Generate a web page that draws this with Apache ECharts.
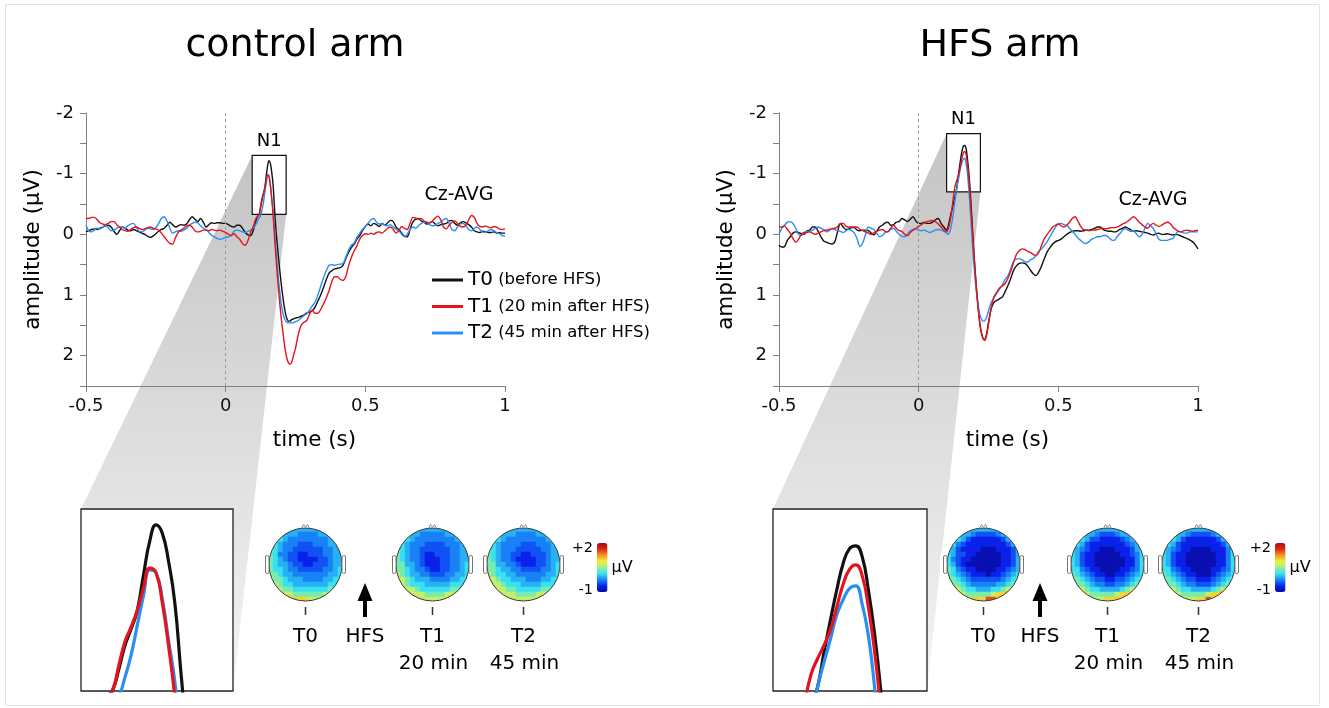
<!DOCTYPE html>
<html><head><meta charset="utf-8">
<script src="https://cdn.jsdelivr.net/npm/echarts@6/dist/echarts.min.js"></script>
<style>html,body{margin:0;padding:0;background:#fff}#c{width:1329px;height:708px}</style>
</head><body><div id="c"></div>
<script>
// ---------------- DATA ----------------
const TIME = [
 -0.50,-0.49,-0.48,-0.47,-0.46,-0.45,-0.44,-0.43,-0.42,-0.41,
 -0.40,-0.39,-0.38,-0.37,-0.36,-0.35,-0.34,-0.33,-0.32,-0.31,
 -0.30,-0.29,-0.28,-0.27,-0.26,-0.25,-0.24,-0.23,-0.22,-0.21,
 -0.20,-0.19,-0.18,-0.17,-0.16,-0.15,-0.14,-0.13,-0.12,-0.11,
 -0.10,-0.09,-0.08,-0.07,-0.06,-0.05,-0.04,-0.03,-0.02,-0.01,
 0.00,0.01,0.02,0.03,0.04,0.05,0.06,0.07,0.08,0.09,0.10,
 0.105,0.11,0.115,0.12,0.125,0.13,0.135,0.14,0.145,0.15,
 0.155,0.16,0.165,0.17,0.175,0.18,0.185,0.19,0.195,0.20,
 0.205,0.21,0.215,0.22,0.225,0.23,0.235,0.24,0.245,0.25,
 0.26,0.27,0.28,0.29,0.30,0.31,0.32,0.33,0.34,0.35,
 0.36,0.37,0.38,0.39,0.40,0.41,0.42,0.43,0.44,0.45,
 0.46,0.47,0.48,0.49,0.50,0.51,0.52,0.53,0.54,0.55,
 0.56,0.57,0.58,0.59,0.60,0.61,0.62,0.63,0.64,0.65,
 0.66,0.67,0.68,0.69,0.70,0.71,0.72,0.73,0.74,0.75,
 0.76,0.77,0.78,0.79,0.80,0.81,0.82,0.83,0.84,0.85,
 0.86,0.87,0.88,0.89,0.90,0.91,0.92,0.93,0.94,0.95,
 0.96,0.97,0.98,0.99,1.00];

// control arm, Cz-AVG (µV)
const CTRL_T0 = [
 -0.04,-0.06,-0.08,-0.09,-0.08,-0.10,-0.12,-0.14,-0.15,-0.12,
 -0.05,0.00,-0.06,-0.12,-0.10,-0.07,-0.06,-0.08,-0.06,-0.04,
 -0.02,0.00,0.03,0.05,0.03,-0.01,-0.05,-0.08,-0.10,-0.15,
 -0.20,-0.16,-0.12,-0.14,-0.16,-0.15,-0.17,-0.24,-0.29,-0.25,
 -0.21,-0.26,-0.20,-0.12,-0.16,-0.19,-0.18,-0.19,-0.19,-0.18,
 -0.18,-0.16,-0.13,-0.12,-0.15,-0.15,-0.10,-0.03,0.01,0.02,-0.08,
 -0.17,-0.25,-0.30,-0.33,-0.44,-0.57,-0.66,-0.76,-0.95,-1.13,
 -1.215,-1.17,-1.02,-0.80,-0.42,-0.08,0.18,0.42,0.65,0.86,
 1.04,1.20,1.32,1.40,1.43,1.43,1.41,1.40,1.39,1.38,
 1.37,1.35,1.33,1.30,1.28,1.26,1.20,1.10,1.00,0.88,
 0.75,0.64,0.60,0.57,0.56,0.55,0.51,0.40,0.30,0.22,
 0.16,0.08,0.02,-0.06,-0.13,-0.17,-0.14,-0.18,-0.16,-0.13,
 -0.18,-0.15,-0.19,-0.23,-0.21,-0.12,-0.08,-0.02,0.03,0.04,
 -0.08,-0.20,-0.25,-0.26,-0.22,-0.20,-0.17,-0.19,-0.21,-0.17,
 -0.14,-0.16,-0.17,-0.18,-0.22,-0.23,-0.18,-0.15,-0.19,-0.21,
 -0.19,-0.16,-0.12,-0.06,-0.04,-0.03,-0.05,-0.04,-0.03,-0.03,
 -0.04,-0.02,-0.03,-0.02,-0.02];
const CTRL_T1 = [
 -0.26,-0.26,-0.28,-0.28,-0.24,-0.19,-0.17,-0.16,-0.18,-0.21,
 -0.21,-0.16,-0.12,-0.08,-0.06,-0.05,-0.08,-0.11,-0.12,-0.10,
 -0.08,-0.09,-0.11,-0.12,-0.10,-0.09,-0.07,-0.02,0.04,0.10,
 0.15,0.16,0.06,-0.03,-0.07,-0.10,-0.14,-0.15,-0.12,-0.06,
 -0.04,-0.05,-0.07,-0.07,-0.06,-0.08,-0.07,-0.06,-0.07,-0.05,
 -0.03,0.00,0.02,-0.01,0.04,0.08,0.15,0.18,0.10,-0.04,-0.14,
 -0.22,-0.27,-0.30,-0.33,-0.46,-0.59,-0.67,-0.76,-0.88,-0.985,
 -0.96,-0.80,-0.57,-0.30,0.05,0.38,0.68,0.95,1.20,1.42,
 1.62,1.80,1.95,2.06,2.12,2.14,2.12,2.05,1.96,1.88,
 1.65,1.50,1.45,1.42,1.32,1.25,1.30,1.30,1.24,1.15,
 1.05,0.93,0.78,0.70,0.70,0.74,0.76,0.70,0.52,0.38,
 0.27,0.19,0.08,0.02,-0.01,0.00,-0.02,0.00,-0.03,-0.04,
 -0.02,-0.06,-0.10,-0.12,-0.08,-0.02,-0.06,-0.13,-0.10,-0.08,
 -0.18,-0.28,-0.27,-0.25,-0.26,-0.22,-0.20,-0.19,-0.22,-0.27,
 -0.30,-0.24,-0.12,-0.09,-0.15,-0.20,-0.22,-0.18,-0.13,-0.12,
 -0.15,-0.24,-0.31,-0.28,-0.18,-0.13,-0.12,-0.14,-0.12,-0.11,
 -0.13,-0.12,-0.09,-0.08,-0.09];
const CTRL_T2 = [
 -0.15,-0.06,-0.04,-0.07,-0.10,-0.09,-0.12,-0.15,-0.11,-0.06,
 -0.07,-0.10,-0.12,-0.12,-0.10,-0.14,-0.17,-0.18,-0.12,-0.05,
 -0.04,-0.07,-0.10,-0.09,-0.08,-0.11,-0.18,-0.26,-0.29,-0.22,
 -0.10,-0.02,-0.04,-0.06,-0.05,-0.07,-0.10,-0.15,-0.18,-0.20,
 -0.19,-0.14,-0.10,-0.08,-0.03,0.02,0.04,0.07,0.08,0.07,
 0.05,0.04,0.02,-0.05,-0.07,-0.06,-0.04,-0.03,-0.05,-0.07,-0.10,
 -0.14,-0.18,-0.23,-0.27,-0.30,-0.40,-0.52,-0.68,-0.84,-0.975,
 -0.96,-0.82,-0.60,-0.38,-0.06,0.25,0.52,0.78,1.00,1.18,
 1.30,1.38,1.43,1.45,1.46,1.46,1.46,1.46,1.45,1.44,
 1.42,1.38,1.34,1.31,1.25,1.18,1.12,1.00,0.86,0.72,
 0.60,0.51,0.50,0.51,0.50,0.49,0.48,0.38,0.26,0.18,
 0.14,0.05,-0.02,-0.08,-0.13,-0.18,-0.24,-0.26,-0.20,-0.17,
 -0.18,-0.15,-0.14,-0.16,-0.12,-0.08,-0.06,0.00,0.04,0.00,
 -0.08,-0.12,-0.10,-0.14,-0.18,-0.20,-0.20,-0.16,-0.14,-0.15,
 -0.18,-0.20,-0.24,-0.26,-0.18,-0.08,-0.06,-0.12,-0.17,-0.18,
 -0.14,-0.08,-0.06,-0.10,-0.12,-0.08,-0.04,-0.03,-0.06,-0.08,
 -0.06,-0.03,-0.01,0.02,0.03];

// HFS arm, Cz-AVG (µV)
const HFS_T0 = [
 0.18,0.21,0.20,0.10,0.04,-0.02,-0.04,-0.03,-0.01,0.00,
 -0.06,-0.07,-0.12,-0.12,-0.05,0.04,0.11,0.13,0.15,0.16,
 0.12,-0.05,-0.18,-0.12,-0.08,-0.09,-0.11,-0.11,-0.07,-0.06,
 -0.07,-0.07,-0.06,-0.02,0.01,-0.05,-0.12,-0.15,-0.19,-0.20,
 -0.15,-0.16,-0.20,-0.21,-0.26,-0.24,-0.21,-0.25,-0.29,-0.22,
 -0.18,-0.18,-0.20,-0.18,-0.18,-0.20,-0.24,-0.26,-0.18,-0.12,-0.07,
 -0.12,-0.22,-0.33,-0.42,-0.52,-0.62,-0.72,-0.90,-1.07,-1.23,
 -1.37,-1.45,-1.465,-1.41,-1.23,-0.99,-0.68,-0.30,0.08,0.45,
 0.78,1.05,1.30,1.50,1.63,1.71,1.74,1.70,1.60,1.45,
 1.22,1.12,1.09,1.06,1.03,0.94,0.84,0.72,0.59,0.52,
 0.48,0.47,0.48,0.52,0.59,0.65,0.68,0.62,0.52,0.40,
 0.29,0.22,0.16,0.12,0.10,0.08,0.04,0.00,-0.03,-0.05,
 -0.06,-0.06,-0.05,-0.06,-0.07,-0.07,-0.08,-0.10,-0.12,-0.12,
 -0.08,-0.06,-0.05,-0.05,-0.04,-0.05,-0.08,-0.10,-0.12,-0.10,
 -0.07,-0.05,-0.06,-0.05,-0.04,-0.03,-0.02,0.00,0.01,-0.01,
 -0.02,0.00,0.00,-0.01,0.00,0.01,0.00,0.01,0.03,0.05,
 0.07,0.09,0.12,0.17,0.24];
const HFS_T1 = [
 -0.12,-0.12,-0.14,-0.08,-0.02,0.07,0.13,0.08,0.00,-0.03,
 -0.03,-0.04,-0.02,0.00,-0.02,-0.04,-0.06,-0.07,-0.08,-0.09,
 -0.10,-0.13,-0.18,-0.18,-0.13,-0.12,-0.12,-0.12,-0.12,-0.08,
 -0.06,-0.04,-0.02,0.00,-0.03,-0.05,-0.07,-0.08,-0.05,-0.04,
 -0.10,-0.15,-0.10,-0.06,-0.05,0.00,0.02,-0.03,-0.07,-0.10,
 -0.13,-0.16,-0.19,-0.21,-0.22,-0.23,-0.21,-0.17,-0.12,-0.07,-0.04,
 -0.08,-0.16,-0.28,-0.45,-0.64,-0.79,-0.87,-0.94,-1.02,-1.14,
 -1.26,-1.34,-1.365,-1.31,-1.14,-0.90,-0.58,-0.22,0.14,0.48,
 0.80,1.08,1.32,1.51,1.63,1.71,1.75,1.72,1.62,1.48,
 1.20,1.03,0.95,0.88,0.85,0.81,0.72,0.60,0.46,0.33,
 0.27,0.24,0.25,0.28,0.30,0.33,0.35,0.30,0.18,0.07,
 0.00,-0.06,-0.12,-0.15,-0.17,-0.14,-0.12,-0.15,-0.20,-0.26,
 -0.29,-0.22,-0.13,-0.08,-0.07,-0.06,-0.07,-0.07,-0.08,-0.09,
 -0.10,-0.09,-0.10,-0.11,-0.11,-0.12,-0.14,-0.17,-0.19,-0.22,
 -0.26,-0.29,-0.25,-0.20,-0.16,-0.12,-0.10,-0.15,-0.18,-0.15,
 -0.13,-0.15,-0.18,-0.20,-0.18,-0.12,-0.08,-0.05,-0.04,-0.06,
 -0.07,-0.06,-0.05,-0.06,-0.07];
const HFS_T2 = [
 0.00,-0.10,-0.15,-0.20,-0.21,-0.18,-0.10,0.00,0.02,-0.02,
 -0.05,-0.05,-0.07,-0.10,-0.12,-0.10,-0.08,-0.04,-0.06,-0.10,
 -0.08,-0.06,-0.05,-0.03,-0.06,-0.08,-0.06,-0.02,0.08,0.20,
 0.14,0.00,-0.12,-0.10,-0.08,-0.02,0.04,0.02,-0.03,-0.05,
 -0.08,-0.10,-0.05,0.00,0.03,0.04,0.00,-0.06,-0.08,-0.09,
 -0.07,-0.06,-0.07,-0.05,-0.03,-0.05,-0.07,-0.08,-0.07,-0.05,-0.02,
 0.00,-0.03,-0.10,-0.22,-0.38,-0.56,-0.72,-0.85,-0.97,-1.10,
 -1.18,-1.24,-1.255,-1.16,-0.99,-0.71,-0.38,-0.02,0.33,0.63,
 0.88,1.08,1.23,1.34,1.40,1.43,1.43,1.40,1.34,1.26,
 1.12,1.04,0.97,0.90,0.83,0.74,0.68,0.56,0.44,0.41,
 0.40,0.42,0.45,0.46,0.42,0.40,0.35,0.28,0.24,0.18,
 0.12,0.04,-0.04,-0.12,-0.17,-0.18,-0.16,-0.15,-0.10,-0.05,
 0.00,0.06,0.10,0.14,0.15,0.12,0.08,0.06,0.04,0.04,
 0.02,0.02,0.05,0.09,0.10,0.04,-0.01,-0.07,-0.09,-0.07,
 -0.05,-0.06,0.00,0.04,0.00,-0.10,-0.18,-0.14,-0.10,0.00,
 0.08,0.10,0.10,0.10,0.08,0.07,0.00,-0.05,-0.04,-0.02,
 -0.02,-0.04,-0.04,-0.04,-0.04];

const SERIES_NAMES = ['T0', 'T1', 'T2'];
const LEGEND_DESC = { T0: '(before HFS)', T1: '(20 min after HFS)', T2: '(45 min after HFS)' };
const X_AXIS = { min: -0.5, max: 1, interval: 0.5 };
const Y_AXIS = { min: -2, max: 2.5, interval: 0.5 };

// Topographic maps at the N1 peak: level codes per cell (row 0 = front, '.' = outside head)
const TOPO_LEVELS = [-0.9, -0.66, -0.45, -0.27, -0.08, 0.12, 0.38, 0.68, 1.0, 1.5];
const TOPO_CTRL_T0 = [
 "...544444445...","..54443333445..",".5543333333345.","554333222333445","654332222223344",
 "653322112223344","654322111122344","654432211222344","655433222223345","665443333333445",
 "766544433334455","776554444444556",".7766555555566.","..77766666677..","...788887777..."];
const TOPO_CTRL_T1 = [
 "...444444444...","..54433333445..",".5543333333345.","554333222233345","654332222223344",
 "654332112223344","654332111223344","664432111223345","665433211223345","765443322233445",
 "776544433334455","776555444445556",".8776555555666.","..87776666777..","...877777777..."];
const TOPO_CTRL_T2 = [
 "...444444444...","..54443333445..",".5543333333345.","554333322233345","654333222223344",
 "654332211222344","654332111122344","664433211122345","665443322223345","765544333333445",
 "776554443334455","777655544445556",".7776655555666.","..77776666777..","...777777777..."];
const TOPO_HFS_T0 = [
 "...544444445...","..54432222345..",".5542111111245.","553211111111245","542111100011124",
 "542211000001124","532110000001124","542100000001124","653211000011234","654321110112345",
 "665432222223456","766543333344567",".7765544455678.","..77666667889..","...778889987..."];
const TOPO_HFS_T1 = [
 "...444444444...","..54432223445..",".5542211112345.","554211111112345","543211000111245",
 "542110000011235","542110000001135","542110000001135","553211000011235","654321100112345",
 "665432211223456","766543322334567",".7765544445678.","..77666667888..","...777788887..."];
const TOPO_HFS_T2 = [
 "...444444444...","..54432222345..",".5542111111245.","554211111111245","543211000011135",
 "542110000001135","542110000001135","542110000001135","553211000011235","654321100012345",
 "665432211123456","766543322234567",".7765544445678.","..77666667889..","...777788987..."];
const TOPO_LABELS = ['T0', 'T1', 'T2'];
const TOPO_SUBLABELS = ['', '20 min', '45 min'];
const COLORBAR_RANGE = { min: -1, max: 2, top: '+2', bottom: '-1', unit: 'μV' };

// ---------------- LAYOUT / STYLE ----------------
const FONT = 'DejaVu Sans';
const COLORS = ['#111111', '#e3141c', '#2a8ef2'];
const DRAW_ORDER = [0, 2, 1];
const JET = ['#08089a','#0a24f2','#1a86f6','#38e2f2','#96f090','#f4ee3e','#f59622','#e62418','#981210'];
const TOPO_CY = 564, TOPO_SIZE = 75, HEAD_R = 36.5;

const ARMS = [
  { title: 'control arm', data: [CTRL_T0, CTRL_T1, CTRL_T2], topo: [TOPO_CTRL_T0, TOPO_CTRL_T1, TOPO_CTRL_T2],
    grid: { left: 86, top: 113, width: 419, height: 273 },
    inset: { left: 81, top: 509, width: 152, height: 182 },
    zoom: { t: [0.095, 0.2165], v: [-1.30, -0.33] },
    titlePos: [295, 46], czPos: [459, 195], topoX: [305.5, 432, 523.5], hfsX: 365, cbar: [597, 543] },
  { title: 'HFS arm', data: [HFS_T0, HFS_T1, HFS_T2], topo: [TOPO_HFS_T0, TOPO_HFS_T1, TOPO_HFS_T2],
    grid: { left: 779, top: 113, width: 419, height: 273 },
    inset: { left: 773, top: 509, width: 154, height: 182 },
    zoom: { t: [0.10, 0.221], v: [-1.66, -0.70] },
    titlePos: [1000, 46], czPos: [1153, 200], topoX: [983.5, 1107.5, 1198.5], hfsX: 1040, cbar: [1275, 543] }
];

function pairs(vals) { return TIME.map((t, i) => [t, vals[i]]); }
const CAT15 = Array.from({ length: 15 }, (_, i) => String(i));
function topoData(rows) {
  const out = [];
  rows.forEach((row, r) => {
    for (let c = 0; c < row.length; c++) {
      const ch = row[c];
      if (ch !== '.') out.push([c, r, TOPO_LEVELS[+ch]]);
    }
  });
  return out;
}

const axisLineStyle = { color: '#808080', width: 1 };
const option = {
  animation: false,
  backgroundColor: '#ffffff',
  textStyle: { fontFamily: FONT },
  grid: [], xAxis: [], yAxis: [], series: [], visualMap: [],
  legend: {
    show: true, data: SERIES_NAMES, orient: 'vertical', left: 432, top: 270, padding: 0,
    icon: 'rect', itemWidth: 31, itemHeight: 3, itemGap: 6.5, selectedMode: false,
    formatter: n => `{a|${n}} {b|${LEGEND_DESC[n]}}`,
    textStyle: { fontFamily: FONT, fontSize: 16.5, color: '#000',
      rich: { a: { fontFamily: FONT, fontSize: 20, lineHeight: 22, color: '#000' },
              b: { fontFamily: FONT, fontSize: 16.5, lineHeight: 22, color: '#000' } } }
  }
};

// main ERP charts
ARMS.forEach((arm) => {
  const g = option.grid.length;
  arm.gMain = g;
  option.grid.push(Object.assign({ containLabel: false, outerBoundsMode: 'none' }, arm.grid));
  option.xAxis.push({
    gridIndex: g, type: 'value', min: X_AXIS.min, max: X_AXIS.max, interval: X_AXIS.interval,
    name: 'time (s)', nameLocation: 'middle', nameGap: 43,
    nameTextStyle: { fontFamily: FONT, fontSize: 21.5, color: '#000', padding: [0, 0, 0, 38] },
    axisLine: { show: true, onZero: false, lineStyle: axisLineStyle },
    axisTick: { show: true, inside: false, length: 6, lineStyle: axisLineStyle },
    splitLine: { show: false },
    axisLabel: { color: '#111', fontSize: 18, fontFamily: FONT, margin: 11, showMinLabel: true, showMaxLabel: true }
  });
  option.yAxis.push({
    gridIndex: g, type: 'value', inverse: true, min: Y_AXIS.min, max: Y_AXIS.max, interval: Y_AXIS.interval,
    name: 'amplitude (μV)', nameLocation: 'middle', nameGap: 42,
    nameTextStyle: { fontFamily: FONT, fontSize: 21.5, color: '#000' },
    axisLine: { show: true, onZero: false, lineStyle: axisLineStyle },
    axisTick: { show: true, inside: false, length: 6, lineStyle: axisLineStyle },
    splitLine: { show: false },
    axisLabel: { color: '#111', fontSize: 18, fontFamily: FONT, margin: 12,
      formatter: v => (Number.isInteger(v) ? String(v) : '') }
  });
  DRAW_ORDER.forEach((k) => {
    const s = {
      type: 'line', name: SERIES_NAMES[k], xAxisIndex: g, yAxisIndex: g, data: pairs(arm.data[k]),
      symbol: 'none', smooth: 0.3, silent: true,
      lineStyle: { color: COLORS[k], width: 1.4 }, itemStyle: { color: COLORS[k] }
    };
    if (k === 0) {
      s.markArea = {
        silent: true, z: 1,
        itemStyle: { color: '#ffffff', borderColor: '#111', borderWidth: 1.2 },
        label: { show: true, position: 'top', distance: 5, formatter: 'N1', color: '#000', fontSize: 18, fontFamily: FONT },
        data: [[{ coord: [arm.zoom.t[0], arm.zoom.v[0]] }, { coord: [arm.zoom.t[1], arm.zoom.v[1]] }]]
      };
      s.markLine = {
        silent: true, symbol: ['none', 'none'], label: { show: false },
        lineStyle: { color: '#9a9a9a', type: [3, 3], width: 1 },
        data: [{ xAxis: 0 }]
      };
    }
    option.series.push(s);
  });
});

// zoomed N1 insets
ARMS.forEach((arm) => {
  const g = option.grid.length;
  option.grid.push(Object.assign({ containLabel: false, outerBoundsMode: 'none', show: true,
    backgroundColor: '#ffffff', borderColor: '#222', borderWidth: 1.3 }, arm.inset));
  option.xAxis.push({ gridIndex: g, type: 'value', min: arm.zoom.t[0], max: arm.zoom.t[1], show: false });
  option.yAxis.push({ gridIndex: g, type: 'value', inverse: true, min: arm.zoom.v[0], max: arm.zoom.v[1], show: false });
  DRAW_ORDER.forEach((k) => {
    option.series.push({
      type: 'line', name: SERIES_NAMES[k], xAxisIndex: g, yAxisIndex: g, data: pairs(arm.data[k]),
      symbol: 'none', smooth: 0.5, silent: true, clip: true,
      lineStyle: { color: COLORS[k], width: 3.2, join: 'round' }, itemStyle: { color: COLORS[k] }
    });
  });
});

// topographic maps
ARMS.forEach((arm) => {
  const idx = [];
  arm.topoLeft = [];
  arm.topo.forEach((rows, k) => {
    const g = option.grid.length;
    const left = Math.round(arm.topoX[k] - TOPO_SIZE / 2);
    const top = Math.round(TOPO_CY - TOPO_SIZE / 2);
    arm.topoLeft.push([left, top]);
    option.grid.push({ left, top, width: TOPO_SIZE, height: TOPO_SIZE, containLabel: false, outerBoundsMode: 'none' });
    option.xAxis.push({ gridIndex: g, type: 'category', data: CAT15, show: false });
    option.yAxis.push({ gridIndex: g, type: 'category', data: CAT15, inverse: true, show: false });
    idx.push(option.series.length);
    option.series.push({ type: 'heatmap', xAxisIndex: g, yAxisIndex: g, data: topoData(rows), silent: true,
      itemStyle: { borderWidth: 0 }, progressive: 0 });
  });
  option.visualMap.push({
    type: 'continuous', min: COLORBAR_RANGE.min, max: COLORBAR_RANGE.max, seriesIndex: idx,
    inRange: { color: JET }, show: true, calculable: false, hoverLink: false, orient: 'vertical',
    left: arm.cbar[0], top: arm.cbar[1], itemWidth: 10.5, itemHeight: 49, padding: 0, text: null
  });
});

const chart = echarts.init(document.getElementById('c'));
chart.setOption(option);

// ---------------- DECORATION ----------------
function txt(x, y, text, size, extra) {
  return { type: 'text', x, y, z: 60, silent: true,
    style: Object.assign({ text, fontSize: size, fontFamily: FONT, fill: '#000', align: 'center', verticalAlign: 'middle' }, extra || {}) };
}
const els = [];
els.push({ type: 'rect', z: 70, silent: true, shape: { x: 5.5, y: 4.5, width: 1314, height: 701 },
  style: { fill: 'none', stroke: '#e3e3e3', lineWidth: 1 } });

ARMS.forEach((arm) => {
  els.push(txt(arm.titlePos[0], arm.titlePos[1], arm.title, 38));
  els.push(txt(arm.czPos[0], arm.czPos[1], 'Cz-AVG', 19));
  // zoom wedge from N1 box to inset
  const tl = chart.convertToPixel({ gridIndex: arm.gMain }, [arm.zoom.t[0], arm.zoom.v[0]]);
  const br = chart.convertToPixel({ gridIndex: arm.gMain }, [arm.zoom.t[1], arm.zoom.v[1]]);
  const ins = arm.inset;
  els.push({ type: 'polygon', z: -10, silent: true,
    shape: { points: [tl, [br[0], tl[1]], br, [ins.left + ins.width, ins.top + ins.height], [ins.left, ins.top]] },
    style: { fill: { type: 'linear', x: 0, y: 0, x2: 0, y2: 1,
      colorStops: [{ offset: 0, color: '#c4c4c4' }, { offset: 1, color: '#f4f4f4' }] } } });
  // heads: thin white mask hides the square cell corners outside the scalp
  arm.topoLeft.forEach(([l, t]) => {
    const cx = l + TOPO_SIZE / 2, cy = t + TOPO_SIZE / 2;
    els.push({ type: 'circle', z: 40, silent: true, shape: { cx, cy, r: HEAD_R + 3.7 },
      style: { fill: 'none', stroke: '#ffffff', lineWidth: 7.4 } });
  });
  arm.topoLeft.forEach(([l, t], k) => {
    const cx = l + TOPO_SIZE / 2, cy = t + TOPO_SIZE / 2;
    els.push({ type: 'circle', z: 41, silent: true, shape: { cx, cy, r: HEAD_R },
      style: { fill: 'none', stroke: '#3a3a3a', lineWidth: 1 } });
    els.push({ type: 'rect', z: 42, silent: true, shape: { x: cx - HEAD_R - 3.5, y: cy - 9, width: 3.5, height: 18, r: 1.5 },
      style: { fill: '#fff', stroke: '#777', lineWidth: 1 } });
    els.push({ type: 'rect', z: 42, silent: true, shape: { x: cx + HEAD_R, y: cy - 9, width: 3.5, height: 18, r: 1.5 },
      style: { fill: '#fff', stroke: '#777', lineWidth: 1 } });
    els.push({ type: 'polyline', z: 42, silent: true,
      shape: { points: [[cx - 4, cy - HEAD_R + 0.5], [cx - 2, cy - HEAD_R - 3.5], [cx, cy - HEAD_R - 1], [cx + 2, cy - HEAD_R - 3.5], [cx + 4, cy - HEAD_R + 0.5]] },
      style: { fill: 'none', stroke: '#888', lineWidth: 1 } });
    els.push({ type: 'line', z: 42, silent: true, shape: { x1: cx, y1: 607, x2: cx, y2: 615 },
      style: { stroke: '#333', lineWidth: 1.5 } });
    els.push(txt(cx, 637, TOPO_LABELS[k], 20));
    if (TOPO_SUBLABELS[k]) els.push(txt(cx + 1, 664, TOPO_SUBLABELS[k], 20));
  });
  // HFS arrow
  const ax = arm.hfsX;
  els.push({ type: 'polygon', z: 42, silent: true,
    shape: { points: [[ax, 583], [ax + 7.5, 601], [ax + 2, 601], [ax + 2, 617], [ax - 2, 617], [ax - 2, 601], [ax - 7.5, 601]] },
    style: { fill: '#000' } });
  els.push(txt(ax, 637, 'HFS', 20));
  // colour bar labels
  els.push(txt(arm.cbar[0] - 4, 548, COLORBAR_RANGE.top, 14.5, { align: 'right' }));
  els.push(txt(arm.cbar[0] - 4, 590, COLORBAR_RANGE.bottom, 14.5, { align: 'right' }));
  els.push(txt(arm.cbar[0] + 14.5, 568, COLORBAR_RANGE.unit, 16, { align: 'left' }));
});
chart.setOption({ graphic: { elements: els } });
</script>
</body></html>
